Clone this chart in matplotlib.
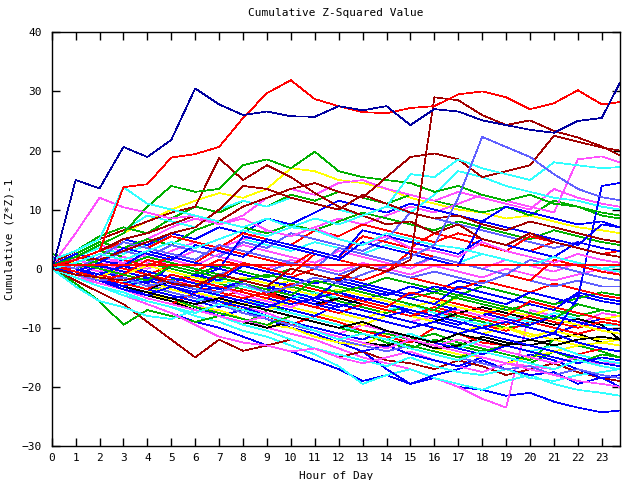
import matplotlib
matplotlib.use("Agg")
import matplotlib.pyplot as plt

# sample times (hour of day), shared by every run
hours = [0, 1, 2, 3, 4, 5, 6, 7, 8, 9, 10, 11, 12, 13, 14, 15, 16, 17, 18, 19, 20, 21, 22, 23, 23.75]

# flat reference line
ref_level = 0.7

# outlying runs (upper part of the chart)
run_a = [-0.5, 15.0, 13.6, 20.6, 18.9, 21.8, 30.5, 27.8, 26.0, 26.6, 25.8, 25.7, 27.5, 26.8, 27.5, 24.3, 27.0, 26.6, 25.1, 24.3, 23.5, 23.0, 25.0, 25.5, 31.4]
run_b = [0.5, 1.5, 3.0, 13.8, 14.3, 18.8, 19.4, 20.6, 25.5, 29.7, 31.9, 28.7, 27.5, 26.5, 26.3, 27.2, 27.5, 29.5, 30.0, 29.0, 27.0, 28.0, 30.2, 27.8, 28.2]
run_c = [0.0, -1.0, -1.5, -2.0, -1.0, -2.5, -3.0, -1.0, -2.0, -3.0, 0.0, -1.0, -2.0, 0.5, -0.5, 1.5, 29.0, 28.5, 26.0, 24.3, 25.1, 23.3, 22.2, 20.7, 19.2]
run_e = [1.0, 3.0, 5.0, 6.5, 8.0, 9.5, 10.5, 18.7, 15.0, 17.5, 15.5, 12.8, 10.5, 9.0, 7.5, 8.0, 6.0, 7.5, 5.0, 4.0, 6.0, 4.5, 3.5, 2.5, 2.0]
run_e2 = [0.5, 2.0, 1.5, 3.0, 4.5, 6.0, 7.0, 10.0, 14.0, 13.5, 12.0, 11.0, 10.0, 12.5, 11.0, 9.5, 8.5, 9.0, 7.5, 6.5, 8.0, 7.0, 6.0, 5.0, 4.5]
run_f = [0.5, 2.0, 4.0, 6.0, 10.5, 14.0, 13.0, 13.5, 17.5, 18.5, 17.0, 19.8, 16.5, 15.5, 15.0, 14.5, 13.0, 14.0, 12.5, 11.5, 12.5, 11.0, 10.5, 9.5, 9.0]
run_g = [0.0, 1.5, 3.0, 5.0, 6.0, 7.5, 9.0, 8.0, 10.5, 12.0, 13.5, 14.5, 13.0, 12.0, 15.5, 18.9, 19.5, 18.5, 15.5, 16.5, 17.5, 22.5, 21.5, 20.5, 20.0]
run_h = [0.5, 6.0, 12.0, 10.4, 9.5, 8.5, 9.0, 7.5, 8.5, 6.5, 5.5, 7.0, 5.0, 4.0, 5.5, 3.5, 3.0, 2.0, 4.5, 3.0, 2.0, 1.0, 2.5, 1.5, 1.0]
run_i = [1.5, 3.0, 5.0, 13.8, 11.0, 10.0, 9.0, 8.0, 7.0, 8.5, 7.0, 6.5, 5.0, 4.0, 6.0, 5.0, 4.0, 3.5, 2.5, 1.5, 0.5, 2.0, 1.0, 0.0, -0.5]
run_j = [0.0, 1.0, 2.5, 1.5, 3.0, 4.5, 3.5, 5.0, 6.5, 5.5, 7.0, 8.5, 7.5, 9.0, 10.5, 16.0, 15.5, 18.5, 17.0, 16.0, 15.0, 18.0, 17.5, 17.0, 17.2]
run_k = [0.0, -1.0, -2.0, -1.5, -3.0, -2.0, -3.5, -4.0, -2.5, -4.0, -3.0, -1.5, -2.5, -1.0, 0.5, 2.0, 4.0, 12.0, 22.3, 20.6, 18.9, 16.0, 13.5, 12.1, 11.6]

# the main bundle of runs
run_01 = [0, -1.5, -3, -4.5, -6, -7.5, -9, -10, -11.5, -13, -14, -15.5, -17, -19, -18, -19.5, -18.5, -20, -20.5, -21.5, -21, -22.5, -23.5, -24.3, -24]
run_02 = [0.5, -0.5, -1.5, -3, -4, -5, -6, -7.5, -8.5, -10, -11, -12, -13.5, -15, -16, -17, -18.5, -20, -22, -23.5, -7, -8, -9, -10, -10.5]
run_03 = [0, -1.5, -3, -4, -5.5, -6.5, -8, -9, -10.5, -11.5, -13, -14.5, -16.5, -19.5, -18, -17, -18.5, -19.5, -20.5, -19, -18, -19.5, -20.5, -21, -21.5]
run_04 = [0.5, -0.5, -2, -3, -4, -5, -4.5, -6, -7.5, -8.5, -10, -11, -12.5, -14, -17, -19.5, -18, -17, -15.5, -17, -18, -17.5, -19.5, -18.4, -20]
run_05 = [0, -2, -4, -6, -9, -12, -15, -12, -13.9, -13, -12, -13.5, -15, -14, -15.5, -16, -17, -15.5, -16.5, -18, -17, -16, -17.5, -18.5, -19]
run_06 = [0, -2.5, -5.5, -9.5, -7, -8, -9, -8, -9.5, -7, -8, -9, -10, -11, -12.5, -13.5, -12, -13, -14, -15, -16, -14, -15.5, -16.5, -17]
run_07 = [0, -3, -5.5, -6.5, -8, -8.5, -7, -8, -9.5, -10.5, -12, -13.5, -14.5, -15.5, -16.5, -15, -16.5, -17.5, -18, -17, -18.5, -19, -18, -17.5, -17]
run_08 = [0, -1.5, -3, -4.5, -6, -7.5, -9.5, -11.5, -12.5, -13, -14, -13.5, -15, -16, -15, -14, -15.5, -16.5, -17.5, -16, -16.5, -17, -15.5, -16, -16]
run_09 = [1, 0, -1.5, -3, -4.5, -5, -6.5, -8, -7, -8.5, -10, -11.5, -12.5, -14, -13, -14.5, -15.5, -16.5, -15, -16, -14.5, -15.5, -17, -18.5, -18]
run_10 = [0.5, -0.5, -2, -3, -4, -5.5, -6.5, -7, -8.5, -9.5, -10, -11.5, -12.5, -13, -11, -12, -13.5, -14.5, -15, -16, -15, -14, -13, -12.5, -12]
run_11 = [0, -1, -2, -3.5, -4.5, -5.5, -7, -8, -9, -10, -9, -10.5, -11.5, -12.5, -13, -12, -13.5, -13, -11.5, -12.5, -13, -12, -11, -12.5, -13]
run_12 = [1, 0.5, -0.5, -1.5, -3, -4, -5, -6, -7, -6, -7.5, -8.5, -9.5, -10.5, -11, -12, -11, -12.5, -13.5, -14.5, -15.5, -12, -13, -14, -15]
run_13 = [0.5, -1, -2.5, -3.5, -5, -6, -4, -5.5, -7, -8, -9.5, -8, -9, -10.5, -11.5, -12.5, -10, -11, -12.5, -13, -14, -13, -14.5, -13.5, -14]
run_14 = [2, 1, 0, -1.5, -2.5, -4, -5, -6, -7.5, -8.5, -9.5, -10.5, -12, -13, -14, -13, -14, -15, -16, -17, -16.5, -18, -17, -18, -18.5]
run_15 = [0, -1.5, -2.5, -3.5, -4.5, -3, -4, -5.5, -6.5, -7.5, -9, -10, -11, -9.5, -10.5, -12, -13, -12, -13, -14, -15, -16, -15, -16.5, -17]
run_16 = [1, 0, -1, -2, -3.5, -4.5, -5.5, -4, -5, -6.5, -7.5, -8.5, -9.5, -11, -12, -11, -12.5, -13.5, -12, -13, -14, -13, -14.5, -15.5, -16]
run_17 = [0, -0.5, 1.5, 0.5, -1, -2, -3, -4, -2, -3, -4.5, -5.5, -6.5, -5, -6, -7.5, -8.5, -9.5, -8, -9, -10, -11, -9.5, -10.5, -11]
run_18 = [0, -1, -2, -3, -2, -3.5, -4.5, -5.5, -6, -5, -6.5, -7.5, -8.5, -9.5, -8, -9, -10, -11, -9.5, -10, -11.5, -10.5, -11.5, -12, -12]
run_19 = [0, 2, 1, 0, -1, -2, -1, -2.5, -3.5, -4.5, -3, -4, -5.5, -6.5, -7.5, -6, -7, -8, -9, -10, -9.5, -8, -9, -10, -10.5]
run_20 = [0, -1, -2, -1, -2, -3, -4, -5, -3.5, -4.5, -5.5, -6.5, -5, -6, -7, -8, -7, -8.5, -9.5, -10.5, -9, -10, -11, -10, -10.5]
run_21 = [1.5, 0.5, -0.5, -1.5, -2.5, 0.5, -0.5, -1.5, -2.5, -3.5, -2, -3, -4, -5.5, -4, -5, -6, -7, -8, -6.5, -7.5, -8.5, -9.5, -8.5, -9]
run_22 = [0.5, 1.5, 0.5, -1, -2, -3, -2, -3, -4.5, -5.5, -6.5, -5, -6, -7, -8, -9, -8, -7, -8, -9, -7.5, -8.5, -9.5, -7.5, -8]
run_23 = [0, -1, -2, -3, -1.5, -2.5, -3.5, -2, -3, -4, -5, -4, -5, -6, -7, -6, -7.5, -8.5, -9.5, -8, -9, -7.5, -8.5, -9.5, -9.5]
run_24 = [0, -0.5, -1.5, -2.5, -3.5, -2, -3, -4, -5, -4, -5, -6, -5, -6, -7, -8, -9, -7.5, -6.5, -7.5, -8.5, -9.5, -8.5, -9.5, -12]
run_25 = [0.5, -0.5, -1.5, 0.5, -0.5, -1.5, -2.5, -1, -2, -3, -2, -3, -4, -3, -4, -5, -6, -5, -6, -7, -8, -6.5, -7.5, -8.5, -8]
run_26 = [0, 1, 0, 1.5, 0.5, -0.5, -1.5, 0, -1, -2, -3, -1.5, -2.5, -3.5, -4.5, -3, -4, -2, -3, -4, -5, -6, -4.5, -5.5, -6]
run_27 = [2.5, 1.5, 3, 2, 1, 0, -1, 0.5, -0.5, -1.5, 0, -1, -2, -3, -1.5, -2.5, -3.5, -4.5, -3, -4, -5, -6, -5, -4, -4.5]
run_28 = [0, -0.5, 1, 0, -1, 0.5, -0.5, 1.5, 0.5, -0.5, -1.5, 0, -1, -2, -0.5, -1.5, -2.5, -3.5, -2, -3, -4, -2.5, -3.5, -4.5, -5]
run_29 = [0.5, 2.5, 1.5, 0.5, 2, 1, 0, -1, 0.5, -0.5, 1, 0, -1, 0.5, -0.5, -1.5, -0.5, -1.5, -2.5, -1, -2, -3, -2, -3, -3]
run_30 = [1, 0, 2, 1, 0, 1.5, 3, 2, 1, 0, 1.5, 0.5, -0.5, 1, 0, -1, 0.5, -0.5, -1.5, 0, -1, -2, -1, 0, -0.5]
run_31 = [0.5, 2, 3.5, 2.5, 4, 5.5, 4.5, 3.5, 5, 4, 3, 4.5, 3.5, 2.5, 4, 3, 2, 1, 2.5, 1.5, 0.5, 2, 1, 0, 0.5]
run_32 = [0.5, 2, 4, 6, 8, 10, 11.5, 12.8, 12, 13.5, 17, 16.5, 15, 14.5, 13.5, 12, 11, 10, 9.5, 8.5, 9, 8, 7, 6.5, 6]
run_33 = [1, 3, 5.5, 7, 6, 8.5, 10.5, 9.5, 11.5, 10.5, 12.5, 11.5, 13, 12, 11, 12.5, 11.5, 10.5, 9.5, 10.5, 9, 11.5, 10.5, 9, 8.5]
run_34 = [0, 2, 4, 3, 5, 7, 8.5, 7.5, 9, 12, 13.5, 12.5, 14.5, 15, 13.5, 12.5, 11.5, 13, 12, 11, 10, 13.5, 12, 11, 10.5]
run_35 = [0, -1, 0.5, 2, 1, 3, 4.5, 3.5, 5, 6.5, 5.5, 7, 8.5, 7.5, 9, 10.5, 9.5, 11, 12.5, 11.5, 10.5, 9.5, 18.5, 19, 18]
run_36 = [0, 1.5, 3, 5, 4, 6, 5, 7, 6, 8.5, 7.5, 9.5, 11.5, 10.5, 9.5, 11, 10, 9, 8, 10.5, 9.5, 8.5, 7.5, 8, 7]
run_37 = [1, 3, 5, 6.5, 9, 8, 7, 10, 11.5, 10.5, 12, 11, 10, 9, 10.5, 9.5, 12.5, 16.5, 15.5, 14, 13, 12, 11.5, 10.5, 10]
run_38 = [0.5, 2.5, 4.5, 3.5, 5, 4, 6.5, 8, 7, 6, 7.5, 6.5, 8, 9.5, 8.5, 7.5, 6.5, 8, 7, 6, 5, 6.5, 5.5, 4.5, 4]
run_39 = [0.5, 1.5, 3, 4.5, 3.5, 5.5, 4.5, 3.5, 6, 5, 4, 6.5, 5.5, 7.5, 6.5, 5.5, 4.5, 6, 5, 4, 3, 4.5, 3.5, 2.5, 3]
run_40 = [0, -0.5, 1, 3, 2, 4, 3, 2, 4.5, 3.5, 6, 5, 4, 3, 5, 9.5, 8.5, 7.5, 6.5, 5.5, 4.5, 3.5, 4.5, 3.5, 3]
run_41 = [1.5, 0.5, -0.5, 1, 2.5, 1.5, 0.5, 2.5, 4, 3, 2, 1, 3, 2, 1, 0, 2, 1, 0, 1.5, 0.5, -0.5, 1, 0, -1]
run_42 = [0, -1, 0.5, -0.5, -1.5, -2.5, -1, -2, 0.5, -0.5, -1.5, -2.5, -1.5, -2.5, -3.5, -4.5, -3, -4, -5, -6, -4, -5, -6, -7, -7.5]
run_43 = [0, -1, -2, -3, -4, -3, -4, -5, -6, -7, -5.5, -6.5, -7.5, -8.5, -7, -8, -9, -10, -11, -10, -11, -12, -13, -12.5, -13]
run_44 = [0.5, -0.5, -1.5, -2.5, -3.5, -4.5, -5.5, -6.5, -5, -6, -7, -8, -6, -7, -8, -9, -10, -11, -10, -11, -12, -11, -12.5, -13.5, -14]
run_45 = [0, -1, -2, -3, -4, -5, -6.5, -7.5, -8.5, -9.5, -8, -9, -10, -11, -12, -13, -14, -15, -14, -13, -14, -15, -16, -14.5, -15]
run_46 = [0, -1, -2.5, -3.5, -5, -6, -7, -8, -9, -8, -9, -10.5, -11.5, -12.5, -13.5, -12, -13, -14, -15, -16, -17, -18, -19, -19.5, -20]
run_47 = [0.5, -1, -2, -3.5, -4.5, -3, -4.5, -5.5, -6.5, -8, -9, -10, -11, -12, -10.5, -11.5, -12.5, -13.5, -14.5, -13, -14, -15, -16, -15, -15.5]
run_48 = [0, -1.5, -3, -4.5, -5.5, -6.5, -7.5, -6, -7, -8, -9, -10.5, -12, -11, -12, -13.5, -14.5, -15.5, -14, -15, -16, -17, -15.5, -16.5, -17]
run_49 = [0.5, 0, -1, -2, -1, -2, -3, -4, -5, -4, -5.5, -6.5, -7.5, -6, -7, -8, -6.5, -7.5, -8.5, -9.5, -8, -9, -10, -9, -9.5]
run_50 = [1, 0, -1, 0.5, -0.5, -1.5, -2.5, -3.5, -2, -3, -4, -5, -4, -5, -6, -7, -8, -6.5, -7.5, -8.5, -9.5, -8, -9, -10, -10.5]
run_51 = [0.5, 1, 0, -1, 0.5, -0.5, -1.5, -2.5, -1.5, -2.5, -3.5, -4.5, -3.5, -4.5, -5.5, -6.5, -5.5, -6.5, -7.5, -6.5, -7.5, -8.5, -9.5, -10.5, -11]
run_52 = [0, -1, -2, -3, -4, -5, -6, -5, -6, -7, -8, -9, -10, -9, -10.5, -11.5, -12.5, -11, -12, -13, -12, -13, -12, -11.5, -12]
run_53 = [1, 0, 1.5, 0.5, 2, 1, 0, -1, -2, -1, -2, -3, -4, -3, -4, -5, -4, -5, -6, -7, -6, -7, -8, -7, -7.5]
run_54 = [0, -0.5, -1.5, -2.5, -1.5, -2.5, -3.5, -4.5, -5.5, -6.5, -5, -6, -7, -8, -9, -10, -9, -10, -11, -12, -13, -14, -15, -16, -16.5]
run_55 = [0, -1, -2, -1, -2, -3, -4, -3, -4, -5, -6, -5, -6, -7, -8, -7, -8, -9, -10, -9, -10, -11, -5, 14, 14.5]
run_56 = [0, 1, 2.5, 1.5, 0.5, 2, 1, 3.5, 2.5, 1.5, 0.5, 3, 2, 5.5, 4.5, 3.5, 6, 5, 4, 3, 5.5, 4.5, 3.5, 2.5, 2]
run_57 = [0.5, -0.5, 1, 3.5, 2.5, 1.5, 4, 3, 2, 5, 4, 3, 2, 6.5, 5.5, 4.5, 3.5, 2.5, 5, 4, 3, 2, 4.5, 3.5, 3]
run_58 = [0, -1, -2, -1, 1.5, 0.5, -0.5, -1.5, 1, 0, -1, 2.5, 1.5, 0.5, -0.5, 3, 2, 1, 0, -1, -2, 1.5, 0.5, -0.5, -1]
run_59 = [0, -1, -2, -3, -2, -3, -4, -1, -2, -3, -4, -5, -2, -3, -4, -5, -6, -3, -4, -5, -6, -7, -4, -5, -5.5]
run_60 = [1, 0, 2, 4.5, 3.5, 2.5, 1.5, 4, 3, 2, 1, 0, 3.5, 2.5, 1.5, 0.5, 2, 1, 0, -1, 1.5, 0.5, -0.5, -1.5, -2]
run_61 = [0.5, -0.5, -1.5, -2.5, -3.5, -1, -2, -3, -4, -5, -2.5, -3.5, -4.5, -5.5, -6.5, -4, -5, -6, -7, -8, -5.5, -6.5, -7.5, -8.5, -9]
run_62 = [0, 1, 0, -1, -2, 0.5, -0.5, -1.5, -2.5, -3.5, -4.5, -2, -3, -4, -5, -6, -7, -4.5, -5.5, -6.5, -7.5, -8.5, -6, -7, -7.5]
run_63 = [0.5, 2.5, 1.5, 0.5, 3, 2, 1, 0, 5.5, 4.5, 3.5, 2.5, 1.5, 4.5, 3.5, 2.5, 1.5, 0.5, 8, 7, 6, 5, 4, 7.5, 7]

RED, GREEN, BLUE, MAGENTA, CYAN = '#ff0000', '#00b000', '#0000ff', '#ff50ff', '#30ffff'
YELLOW, BLACK, DRED, DBLUE, LBLUE = '#ffff00', '#000000', '#a00000', '#0000a0', '#6060ff'

runs = [run_01, run_02, run_03, run_04, run_05, run_06, run_07, run_08, run_09, run_10,
        run_11, run_12, run_13, run_14, run_15, run_16, run_17, run_18, run_19, run_20,
        run_21, run_22, run_23, run_24, run_25, run_26, run_27, run_28, run_29, run_30,
        run_31, run_32, run_33, run_34, run_35, run_36, run_37, run_38, run_39, run_40,
        run_41, run_42, run_43, run_44, run_45, run_46, run_47, run_48, run_49, run_50,
        run_51, run_52, run_53, run_54, run_55, run_56, run_57, run_58, run_59, run_60,
        run_61, run_62, run_63,
        run_e, run_e2, run_f, run_g, run_h, run_i, run_j, run_k, run_c, run_b, run_a]
colours = [BLUE, MAGENTA, CYAN, BLUE, DRED, GREEN, CYAN, MAGENTA, BLUE, YELLOW,
           BLACK, GREEN, RED, LBLUE, MAGENTA, CYAN, BLUE, YELLOW, GREEN, RED,
           BLUE, MAGENTA, CYAN, BLACK, YELLOW, BLUE, GREEN, RED, LBLUE, MAGENTA,
           CYAN, YELLOW, GREEN, MAGENTA, MAGENTA, BLUE, CYAN, GREEN, RED, LBLUE,
           MAGENTA, BLUE, YELLOW, BLUE, GREEN, MAGENTA, BLUE, CYAN, RED, BLUE,
           YELLOW, BLACK, GREEN, BLUE, BLUE, RED, BLUE, RED, BLUE, LBLUE,
           RED, GREEN, BLUE,
           DRED, DRED, GREEN, DRED, MAGENTA, CYAN, CYAN, LBLUE, DRED, RED, DBLUE]

plt.rcParams['font.family'] = ['DejaVu Sans Mono']

fig = plt.figure(figsize=(6.4, 4.8), dpi=100)
ax = fig.add_axes([51.7 / 640, 1 - 446 / 480, 568 / 640, 413.7 / 480])

for vals, col in zip(runs, colours):
    ax.plot(hours, vals, color=col, lw=0.5, antialiased=False)
ax.axhline(ref_level, color=RED, lw=1.2, antialiased=False)

ax.set_xlim(0, 23.75)
ax.set_ylim(-30, 40)
ax.set_xticks(range(0, 24))
ax.set_yticks(range(-30, 41, 10))
ax.tick_params(direction='in', length=6, width=1, top=True, right=True,
               labelsize=8, colors='black')
ax.tick_params(axis='x', pad=5)
ax.tick_params(axis='y', pad=7)
for sp in ax.spines.values():
    sp.set_linewidth(1)

ax.set_title('Cumulative Z-Squared Value', fontsize=8, pad=12)
ax.set_xlabel('Hour of Day', fontsize=8, labelpad=6)
ax.set_ylabel('Cumulative (Z*Z)-1', fontsize=8, labelpad=5)

fig.savefig('out.png', dpi=100)
